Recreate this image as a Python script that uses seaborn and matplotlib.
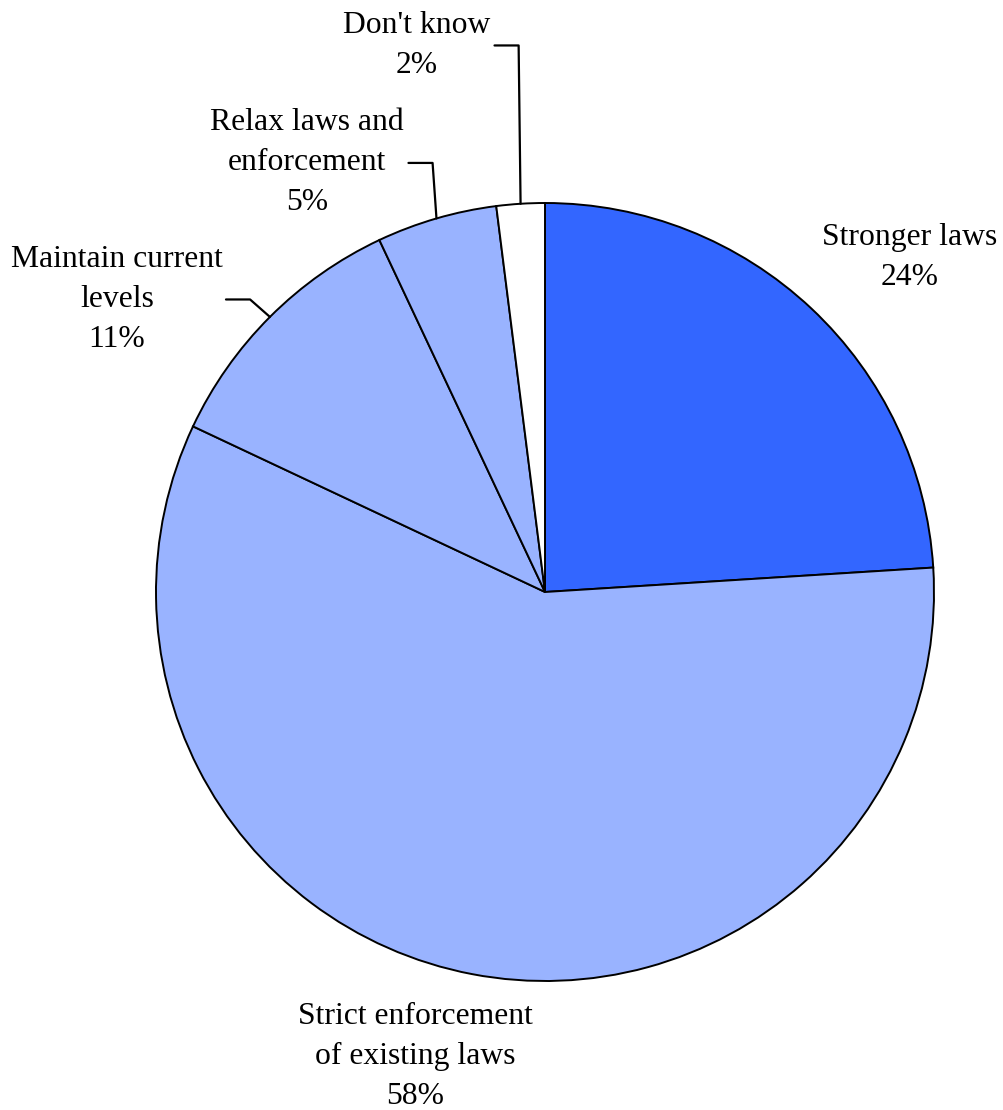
import numpy as np
import matplotlib
matplotlib.use("Agg")
import matplotlib.pyplot as plt
import seaborn as sns

labels = ["Stronger laws", "Strict enforcement\nof existing laws", "Maintain current\nlevels",
          "Relax laws and\nenforcement", "Don't know"]
shares = [24, 58, 11, 5, 2]
colors = ["#3366FF", "#99B3FF", "#99B3FF", "#99B3FF", "#FFFFFF"]

# label centres (data units, pie radius = 1)
label_pos = [(0.938, 0.860), (-0.334, -1.193), (-1.100, 0.752), (-0.612, 1.103), (-0.329, 1.405)]
# leader lines: offset of the bend from the rim point (x), None = no leader
bend_dx = [None, None, -0.051, -0.010, -0.005]

sns.set_theme(style="white")
plt.rcParams["font.family"] = ["Liberation Serif", "DejaVu Serif"]

fig = plt.figure(figsize=(10.04, 11.10), dpi=100)
ax = fig.add_axes([0, 0, 1, 1])
R = 389.0

wedges, _ = ax.pie(shares, colors=colors, startangle=90, counterclock=False, radius=1.0,
                   wedgeprops=dict(edgecolor="black", linewidth=1.4))

ax.set_xlim(-545 / R, (1004 - 545) / R)
ax.set_ylim(-(1110 - 592) / R, 592 / R)
ax.set_aspect("equal")
ax.axis("off")

for w, lab, val, (tx, ty), bdx in zip(wedges, labels, shares, label_pos, bend_dx):
    ax.text(tx, ty, f"{lab}\n{val}%", ha="center", va="center", fontsize=22.8,
            linespacing=1.5, color="black")
    if bdx is not None:
        mid = np.deg2rad((w.theta1 + w.theta2) / 2)
        ex, ey = np.cos(mid), np.sin(mid)
        x1 = ex + bdx
        x0 = x1 - 0.062
        ax.plot([x0, x1, ex], [ty, ty, ey], color="black", lw=1.6)

fig.savefig("out.png", dpi=100)
